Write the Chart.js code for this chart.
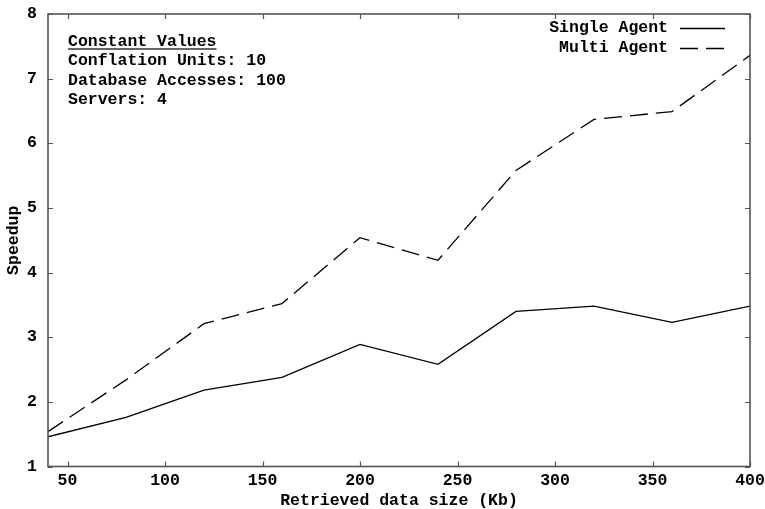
<!DOCTYPE html>
<html>
<head>
<meta charset="utf-8">
<script src="https://cdn.jsdelivr.net/npm/chart.js@4/dist/chart.umd.min.js"></script>
<style>
  html, body { margin: 0; padding: 0; background: #fff; }
  #wrap { width: 765px; height: 509px; }
</style>
</head>
<body>
<div id="wrap"><canvas id="c" width="765" height="509"></canvas></div>
<script>
// Retrieved data size (Kb)
const sizes = [40, 80, 120, 160, 200, 240, 280, 320, 360, 400];
// Speedup per configuration
const singleAgent = [1.46, 1.76, 2.18, 2.38, 2.89, 2.58, 3.40, 3.48, 3.23, 3.48];
const multiAgent  = [1.54, 2.34, 3.21, 3.52, 4.54, 4.19, 5.58, 6.37, 6.49, 7.36];
const seriesNames = ['Single Agent', 'Multi Agent'];
const xTicks = [50, 100, 150, 200, 250, 300, 350, 400];
const yTicks = [1, 2, 3, 4, 5, 6, 7, 8];
const noteLines = ['Constant Values', 'Conflation Units: 10', 'Database Accesses: 100', 'Servers: 4'];

const FONT = 'bold 16.5px "Liberation Mono", "DejaVu Sans Mono", monospace';
const DASH = [18, 8];

const frameAndNotes = {
  id: 'frameAndNotes',
  afterDraw(chart) {
    const ctx = chart.ctx;
    const a = chart.chartArea;
    const xs = chart.scales.x, ys = chart.scales.y;
    ctx.save();
    // frame
    ctx.strokeStyle = '#555';
    ctx.lineWidth = 1.6;
    ctx.strokeRect(a.left, a.top, a.right - a.left, a.bottom - a.top);
    // inward ticks on all four sides
    ctx.lineWidth = 1.2;
    ctx.beginPath();
    xTicks.forEach(v => {
      const px = Math.round(xs.getPixelForValue(v)) + 0.5;
      ctx.moveTo(px, a.bottom); ctx.lineTo(px, a.bottom - 5);
      ctx.moveTo(px, a.top); ctx.lineTo(px, a.top + 5);
    });
    yTicks.forEach(v => {
      const py = Math.round(ys.getPixelForValue(v)) + 0.5;
      ctx.moveTo(a.left, py); ctx.lineTo(a.left + 5, py);
      ctx.moveTo(a.right, py); ctx.lineTo(a.right - 5, py);
    });
    ctx.stroke();

    // constant values note
    ctx.fillStyle = '#000';
    ctx.font = FONT;
    ctx.textBaseline = 'middle';
    ctx.textAlign = 'left';
    const noteY = [42, 61, 81, 100];
    noteLines.forEach((t, i) => ctx.fillText(t, 68, noteY[i]));
    const w = ctx.measureText(noteLines[0]).width;
    ctx.strokeStyle = '#333';
    ctx.lineWidth = 1.5;
    ctx.beginPath();
    ctx.moveTo(68, 49); ctx.lineTo(68 + w, 49);
    ctx.stroke();

    // legend
    ctx.textAlign = 'right';
    const legY = [28, 48];
    chart.data.datasets.forEach((ds, i) => {
      ctx.fillStyle = '#000';
      ctx.fillText(ds.label, 668, legY[i]);
      ctx.strokeStyle = '#000';
      ctx.lineWidth = 1.3;
      ctx.setLineDash(ds.borderDash || []);
      ctx.beginPath();
      ctx.moveTo(680, legY[i] + 0.5); ctx.lineTo(725, legY[i] + 0.5);
      ctx.stroke();
      ctx.setLineDash([]);
    });
    ctx.restore();
  }
};

new Chart(document.getElementById('c'), {
  type: 'line',
  data: {
    datasets: [
      {
        label: seriesNames[0],
        data: sizes.map((x, i) => ({ x, y: singleAgent[i] })),
        borderColor: '#000', borderWidth: 1.3, pointRadius: 0, tension: 0, fill: false
      },
      {
        label: seriesNames[1],
        data: sizes.map((x, i) => ({ x, y: multiAgent[i] })),
        borderColor: '#000', borderWidth: 1.3, borderDash: DASH, pointRadius: 0, tension: 0, fill: false
      }
    ]
  },
  options: {
    responsive: false,
    animation: false,
    devicePixelRatio: 1,
    layout: { padding: { top: 14, right: 15, left: 0, bottom: 0 } },
    plugins: { legend: { display: false }, tooltip: { enabled: false } },
    scales: {
      x: {
        type: 'linear', min: 40, max: 400,
        afterBuildTicks(s) { s.ticks = xTicks.map(v => ({ value: v })); },
        afterFit(s) { s.height = 42.5; s.paddingLeft = 0; s.paddingRight = 0; },
        grid: { display: false, drawTicks: false },
        border: { display: false },
        ticks: { color: '#000', font: { family: '"Liberation Mono"', size: 16.5, weight: 'bold' }, padding: 4, maxRotation: 0, autoSkip: false },
        title: { display: true, text: 'Retrieved data size (Kb)', color: '#000',
                 font: { family: '"Liberation Mono"', size: 16.5, weight: 'bold', lineHeight: 1 }, padding: { top: 3, bottom: 0 } }
      },
      y: {
        type: 'linear', min: 1, max: 8,
        afterBuildTicks(s) { s.ticks = yTicks.map(v => ({ value: v })); },
        afterFit(s) { s.width = 48; s.paddingTop = 0; s.paddingBottom = 0; },
        grid: { display: false, drawTicks: false },
        border: { display: false },
        ticks: { color: '#000', font: { family: '"Liberation Mono"', size: 16.5, weight: 'bold' }, padding: 11 },
        title: { display: true, text: 'Speedup', color: '#000',
                 font: { family: '"Liberation Mono"', size: 16.5, weight: 'bold' }, padding: { top: 4, bottom: 0 } }
      }
    }
  },
  plugins: [frameAndNotes]
});
</script>
</body>
</html>
